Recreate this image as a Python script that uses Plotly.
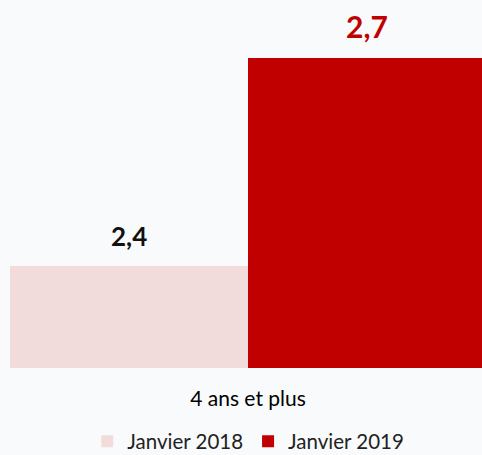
import plotly.graph_objects as go

categories = ["4 ans et plus"]
series_names = ["Janvier 2018", "Janvier 2019"]
values_2018 = [2.4]
values_2019 = [2.7]
colors = ["#f2dcdb", "#c00000"]
label_colors = ["#111111", "#c00000"]
label_sizes = [26, 30]

series_values = [values_2018, values_2019]

fig = go.Figure()
for name, vals, col in zip(series_names, series_values, colors):
    fig.add_trace(go.Bar(name=name, x=categories, y=vals, marker=dict(color=col, line=dict(width=0))))

# value labels above bars
n = len(series_names)
for i, (vals, lc, ls) in enumerate(zip(series_values, label_colors, label_sizes)):
    for j, v in enumerate(vals):
        off = (i + 0.5) / n - 0.5
        fig.add_annotation(x=j + off, y=v, xref="x", yref="y", text=f"{v:.1f}".replace(".", ","),
                           showarrow=False, yanchor="bottom", yshift=12,
                           font=dict(family="Lato", size=ls, color=lc, weight="bold"))

fig.update_layout(
    width=482, height=455,
    autosize=False,
    margin=dict(l=10, r=0, t=0, b=87, autoexpand=False),
    paper_bgcolor="#f9fafb", plot_bgcolor="rgba(0,0,0,0)",
    barmode="group", bargap=0, bargroupgap=0,
    separators=", ",
    showlegend=True,
    legend=dict(orientation="h", x=0.515, xanchor="center", xref="container",
                y=0.03, yanchor="middle", yref="container",
                font=dict(family="Lato", size=20.5, color="#222222"), itemwidth=30,
                traceorder="normal"),
    xaxis=dict(range=[-0.5, 0.4916], showgrid=False, zeroline=False, showline=False,
               ticks="", ticklabelstandoff=16, automargin=False,
               tickfont=dict(family="Lato", size=21, color="#000000")),
    yaxis=dict(range=[2.253, 2.784], visible=False, showgrid=False, zeroline=False,
               automargin=False),
)

fig.write_html("out.html", config={"responsive": False, "displayModeBar": False},
               post_script="document.body.style.margin='0';document.body.style.padding='0';")
